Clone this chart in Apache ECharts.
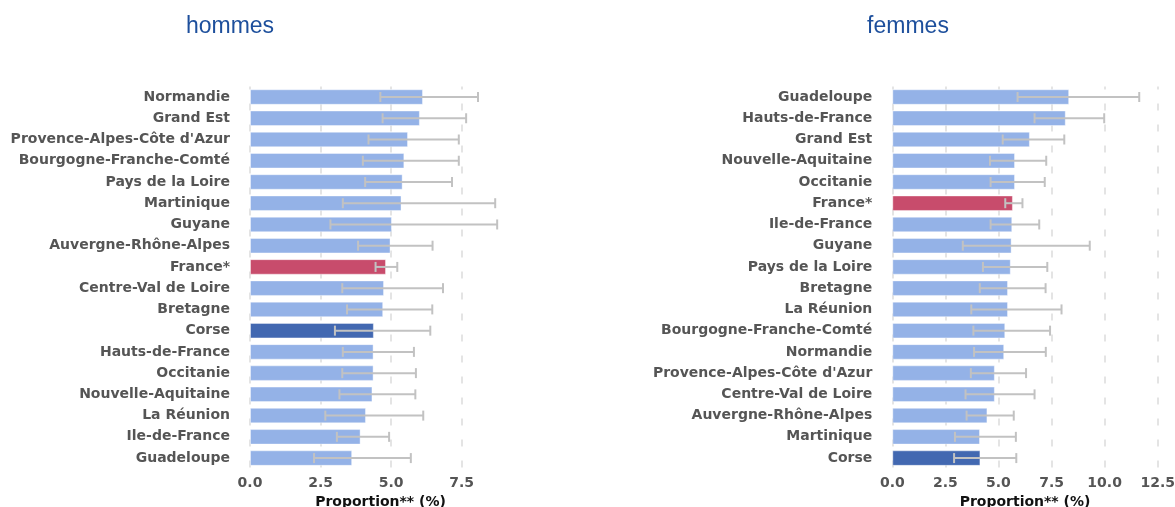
<!DOCTYPE html>
<html>
<head>
<meta charset="utf-8">
<script src="https://cdn.jsdelivr.net/npm/echarts@6/dist/echarts.min.js"></script>
<style>
html,body{margin:0;padding:0;background:#fff;}
#chart{width:1175px;height:507px;}
</style>
</head>
<body>
<div id="chart"></div>
<script>
// ---- Data: hommes ----
const menCategories = ["Normandie","Grand Est","Provence-Alpes-Côte d'Azur","Bourgogne-Franche-Comté","Pays de la Loire","Martinique","Guyane","Auvergne-Rhône-Alpes","France*","Centre-Val de Loire","Bretagne","Corse","Hauts-de-France","Occitanie","Nouvelle-Aquitaine","La Réunion","Ile-de-France","Guadeloupe"];
const menValues = [6.13,6.02,5.60,5.47,5.41,5.37,5.03,4.98,4.82,4.75,4.72,4.39,4.38,4.38,4.34,4.11,3.92,3.62];
const menLow    = [4.62,4.70,4.20,4.00,4.08,3.29,2.85,3.83,4.45,3.27,3.44,3.01,3.29,3.27,3.17,2.67,3.08,2.27];
const menHigh   = [8.08,7.66,7.40,7.40,7.16,8.69,8.76,6.47,5.22,6.84,6.46,6.39,5.81,5.88,5.86,6.14,4.93,5.70];

// ---- Data: femmes ----
const womenCategories = ["Guadeloupe","Hauts-de-France","Grand Est","Nouvelle-Aquitaine","Occitanie","France*","Ile-de-France","Guyane","Pays de la Loire","Bretagne","La Réunion","Bourgogne-Franche-Comté","Normandie","Provence-Alpes-Côte d'Azur","Centre-Val de Loire","Auvergne-Rhône-Alpes","Martinique","Corse"];
const womenValues = [8.33,8.17,6.48,5.78,5.78,5.68,5.65,5.62,5.58,5.45,5.45,5.32,5.27,4.83,4.83,4.48,4.13,4.15];
const womenLow    = [5.90,6.70,5.20,4.60,4.63,5.32,4.63,3.32,4.27,4.12,3.72,3.82,3.85,3.70,3.45,3.50,2.95,2.91];
const womenHigh   = [11.63,9.98,8.10,7.25,7.18,6.13,6.92,9.30,7.30,7.22,7.97,7.43,7.23,6.30,6.70,5.72,5.82,5.84];

// ---- Tick / titles ----
const panelTitles = ["hommes","femmes"];
const axisName = "Proportion** (%)";

const COL_BASE = '#94B2E7';
const COL_FRANCE = '#C84C6C';
const COL_CORSE = '#4268B1';
function barColor(name){
  if(name === 'France*') return COL_FRANCE;
  if(name === 'Corse') return COL_CORSE;
  return COL_BASE;
}
function barData(cats, vals){
  return vals.map((v,i)=>({value:v, itemStyle:{color:barColor(cats[i])}}));
}
function errData(low, high){
  return low.map((l,i)=>[l, high[i], i]);
}
function renderErr(params, api){
  const lo = api.coord([api.value(0), api.value(2)]);
  const hi = api.coord([api.value(1), api.value(2)]);
  const h = 5;
  const st = {stroke:'#C2C2C2', lineWidth:2};
  return {type:'group', children:[
    {type:'line', shape:{x1:lo[0], y1:lo[1], x2:hi[0], y2:hi[1]}, style:st},
    {type:'line', shape:{x1:lo[0], y1:lo[1]-h, x2:lo[0], y2:lo[1]+h}, style:st},
    {type:'line', shape:{x1:hi[0], y1:hi[1]-h, x2:hi[0], y2:hi[1]+h}, style:st}
  ]};
}

const labelStyle = {fontFamily:'DejaVu Sans', fontWeight:'bold', color:'#555555'};
function xAxisCfg(idx, max){
  return {
    type:'value', gridIndex:idx, min:0, max:max, interval:2.5,
    axisLine:{show:false}, axisTick:{show:false},
    axisLabel:Object.assign({fontSize:14, margin:8, showMaxLabel: max % 2.5 === 0,
      formatter:v=>v.toFixed(1)}, labelStyle),
    splitLine:{show:true, showMaxLine: max % 2.5 === 0, lineStyle:{color:'#DCDCDC', width:1.5, type:[7,14], dashOffset:4}},
    name:axisName, nameLocation:'middle', nameGap:25,
    nameTextStyle:{fontFamily:'DejaVu Sans', fontWeight:'bold', fontSize:14, color:'#111111'}
  };
}
function yAxisCfg(idx, cats){
  return {
    type:'category', gridIndex:idx, data:cats, inverse:true,
    axisLine:{show:false}, axisTick:{show:false},
    axisLabel:Object.assign({fontSize:14, margin:20}, labelStyle),
    splitLine:{show:false}
  };
}

const chart = echarts.init(document.getElementById('chart'), null, {renderer:'canvas'});
chart.setOption({
  animation:false,
  backgroundColor:'#ffffff',
  title:[
    {text:panelTitles[0], left:225, top:10, textAlign:'center',
     textStyle:{fontFamily:'Liberation Sans', fontWeight:'normal', fontSize:23, color:'#1D4F9C'}},
    {text:panelTitles[1], left:903, top:10, textAlign:'center',
     textStyle:{fontFamily:'Liberation Sans', fontWeight:'normal', fontSize:23, color:'#1D4F9C'}}
  ],
  grid:[
    {left:250, top:86.4, width:261, height:382.3, containLabel:false, outerBoundsMode:'none'},
    {left:892.3, top:86.4, width:265.4, height:382.3, containLabel:false, outerBoundsMode:'none'}
  ],
  xAxis:[xAxisCfg(0, 9.25), xAxisCfg(1, 12.5)],
  yAxis:[yAxisCfg(0, menCategories), yAxisCfg(1, womenCategories)],
  series:[
    {type:'bar', xAxisIndex:0, yAxisIndex:0, data:barData(menCategories, menValues),
     barCategoryGap:'27%', itemStyle:{borderColor:'rgba(255,255,255,0.4)', borderWidth:1}},
    {type:'custom', xAxisIndex:0, yAxisIndex:0, data:errData(menLow, menHigh),
     encode:{x:[0,1], y:2}, renderItem:renderErr, z:5},
    {type:'bar', xAxisIndex:1, yAxisIndex:1, data:barData(womenCategories, womenValues),
     barCategoryGap:'27%', itemStyle:{borderColor:'rgba(255,255,255,0.4)', borderWidth:1}},
    {type:'custom', xAxisIndex:1, yAxisIndex:1, data:errData(womenLow, womenHigh),
     encode:{x:[0,1], y:2}, renderItem:renderErr, z:5}
  ]
});
</script>
</body>
</html>
